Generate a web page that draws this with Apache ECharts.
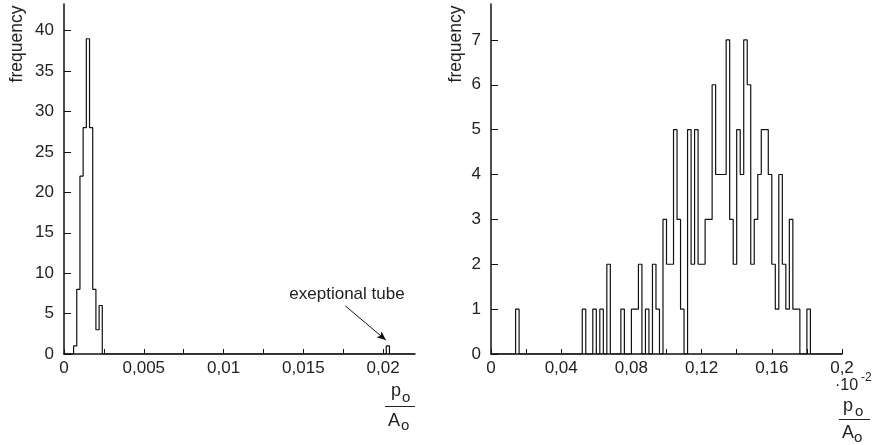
<!DOCTYPE html>
<html>
<head>
<meta charset="utf-8">
<script src="https://cdn.jsdelivr.net/npm/echarts@6/dist/echarts.min.js"></script>
<style>
  html, body { margin: 0; padding: 0; background: #fff; }
  #chart { width: 876px; height: 445px; }
</style>
</head>
<body>
<div id="chart"></div>
<script>
// ---------------- data ----------------
// Left histogram: bin width 0.0002, bins starting at 0
const leftBinWidth = 0.0002;
const leftCounts = [0, 0, 0, 1, 8, 22, 28, 39, 28, 8, 3, 6];
const leftExceptionStart = 0.0202;
const leftExceptionCount = 1;
const leftXMax = 0.022;
const leftYMax = 43.3;
const leftXTicks = [0, 0.0025, 0.005, 0.0075, 0.01, 0.0125, 0.015, 0.0175, 0.02];
const leftXLabels = [0, 0.005, 0.01, 0.015, 0.02];
const leftYTicks = [0, 5, 10, 15, 20, 25, 30, 35, 40];
const arrowFrom = [0.01764, 5.94];
const arrowTo = [0.02017, 1.73];

// Right histogram: bin width 0.002 (x 10^-2), bins from 0 to 0.2
const rightBinWidth = 0.002;
const rightCounts = [
  0, 0, 0, 0, 0, 0, 0, 1, 0, 0,
  0, 0, 0, 0, 0, 0, 0, 0, 0, 0,
  0, 0, 0, 0, 0, 0, 1, 0, 0, 1,
  0, 1, 0, 2, 0, 0, 0, 1, 0, 0,
  1, 1, 2, 0, 1, 0, 2, 1, 0, 3,
  2, 2, 5, 3, 1, 0, 5, 2, 5, 2,
  2, 3, 3, 6, 4, 4, 4, 7, 3, 2,
  5, 4, 7, 6, 2, 3, 4, 5, 5, 4,
  2, 1, 4, 2, 1, 3, 1, 1, 0, 0,
  1, 0, 0, 0, 0, 0, 0, 0, 0, 0
];
const rightXMax = 0.2;
const rightYMax = 7.8;
const rightXTicks = [0, 0.02, 0.04, 0.06, 0.08, 0.1, 0.12, 0.14, 0.16, 0.18, 0.2];
const rightXLabels = [0, 0.04, 0.08, 0.12, 0.16, 0.2];
const rightYTicks = [0, 1, 2, 3, 4, 5, 6, 7];

// ---------------- build step outlines ----------------
function leftPoints() {
  const pts = [];
  leftCounts.forEach((c, k) => pts.push([+(k * leftBinWidth).toFixed(5), c]));
  pts.push([+(leftCounts.length * leftBinWidth).toFixed(5), 0]);
  pts.push([leftExceptionStart, leftExceptionCount]);
  pts.push([+(leftExceptionStart + leftBinWidth).toFixed(5), 0]);
  pts.push([leftXMax, 0]);
  return pts;
}
function rightPoints() {
  const pts = [];
  rightCounts.forEach((c, k) => pts.push([+(k * rightBinWidth).toFixed(4), c]));
  pts.push([rightXMax, 0]);
  return pts;
}

const FONT = '"Liberation Sans", Arial, sans-serif';
const TXT = '#222';
const FS = 17;
const fmt = v => String(v).replace('.', ',');

function xAxisCfg(gi, max, ticks, labels) {
  return {
    type: 'value', gridIndex: gi, min: 0, max: max,
    axisLine: { show: true, onZero: false, lineStyle: { color: '#111', width: 1.5 } },
    axisTick: { show: true, inside: true, length: 5, customValues: ticks, lineStyle: { color: '#111', width: 1 } },
    axisLabel: { customValues: labels, formatter: fmt, color: TXT, fontSize: FS, fontFamily: FONT, margin: 6 },
    splitLine: { show: false }
  };
}
function yAxisCfg(gi, max, ticks) {
  return {
    type: 'value', gridIndex: gi, min: 0, max: max,
    axisLine: { show: true, lineStyle: { color: '#111', width: 1.5 } },
    axisTick: { show: true, inside: true, length: 7, customValues: ticks, lineStyle: { color: '#111', width: 1 } },
    axisLabel: { customValues: ticks, formatter: fmt, color: TXT, fontSize: FS, fontFamily: FONT, margin: 10 },
    splitLine: { show: false }
  };
}

function txt(x, y, text, size, align, vAlign, rot) {
  return {
    type: 'text', x: x, y: y, rotation: rot || 0, silent: true,
    style: { text: text, font: size + 'px ' + FONT, fill: TXT, textAlign: align || 'left', textVerticalAlign: vAlign || 'top' }
  };
}

const chart = echarts.init(document.getElementById('chart'), null, { renderer: 'canvas' });
chart.setOption({
  animation: false,
  backgroundColor: '#fff',
  grid: [
    { left: 64, top: 4, width: 351, height: 350 },
    { left: 491, top: 4, width: 351, height: 350 }
  ],
  xAxis: [
    xAxisCfg(0, leftXMax, leftXTicks, leftXLabels),
    xAxisCfg(1, rightXMax, rightXTicks, rightXLabels)
  ],
  yAxis: [
    yAxisCfg(0, leftYMax, leftYTicks),
    yAxisCfg(1, rightYMax, rightYTicks)
  ],
  series: [
    {
      type: 'line', xAxisIndex: 0, yAxisIndex: 0, step: 'end', symbol: 'none', silent: true,
      data: leftPoints(),
      lineStyle: { color: '#111', width: 1.2 },
      markLine: {
        silent: true, symbol: ['none', 'arrow'], symbolSize: [6, 9],
        label: { show: false },
        lineStyle: { color: '#111', width: 1, type: 'solid' },
        data: [[{ coord: arrowFrom }, { coord: arrowTo }]]
      }
    },
    {
      type: 'line', xAxisIndex: 1, yAxisIndex: 1, step: 'end', symbol: 'none', silent: true,
      data: rightPoints(),
      lineStyle: { color: '#111', width: 1.2 }
    }
  ],
  graphic: [
    txt(17, 44, 'frequency', 17.5, 'center', 'middle', Math.PI / 2),
    txt(456, 44, 'frequency', 17.5, 'center', 'middle', Math.PI / 2),
    txt(347, 294, 'exeptional tube', 17, 'center', 'middle'),
    // left fraction p_o / A_o
    txt(391, 382, 'p', 18),
    txt(402, 390, 'o', 15),
    { type: 'line', silent: true, shape: { x1: 385, y1: 406.5, x2: 415, y2: 406.5 }, style: { stroke: '#222', lineWidth: 1 } },
    txt(388, 412, 'A', 18),
    txt(401, 418, 'o', 15),
    // right: ·10^-2 and p_o / A_o
    txt(835, 378, '·10', 16),
    txt(861, 372, '-2', 12),
    txt(843, 397, 'p', 18),
    txt(855, 404, 'o', 15),
    { type: 'line', silent: true, shape: { x1: 839, y1: 419.5, x2: 870, y2: 419.5 }, style: { stroke: '#222', lineWidth: 1 } },
    txt(842, 424, 'A', 18),
    txt(854, 430, 'o', 15)
  ]
});
</script>
</body>
</html>
